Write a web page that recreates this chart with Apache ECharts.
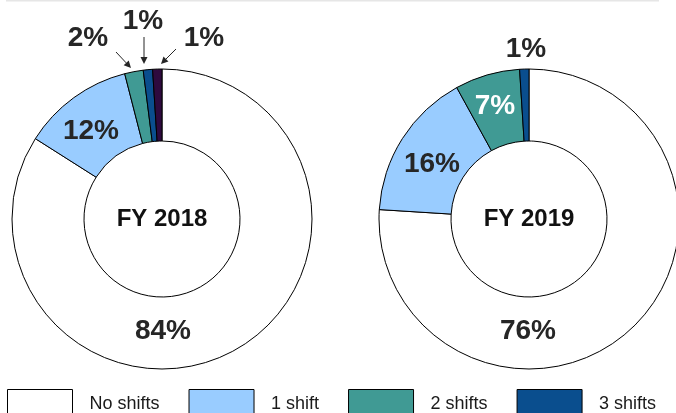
<!DOCTYPE html>
<html>
<head>
<meta charset="utf-8">
<script src="https://cdn.jsdelivr.net/npm/echarts@6/dist/echarts.min.js"></script>
<style>
  html, body { margin: 0; padding: 0; background: #fff; }
  #chart { width: 676px; height: 413px; }
</style>
</head>
<body>
<div id="chart"></div>
<script>
// shift categories (last one is not in the legend)
var categories = ['No shifts', '1 shift', '2 shifts', '3 shifts', '4+ shifts'];
var legendNames = ['No shifts', '1 shift', '2 shifts', '3 shifts'];
var fy2018 = [84, 12, 2, 1, 1];
var fy2019 = [76, 16, 7, 1];
var years = ['FY 2018', 'FY 2019'];

var colors = ['#ffffff', '#99ccff', '#409a94', '#0a4e8e', '#2e0a3e'];
var FONT = '"Liberation Sans", Arial, sans-serif';

// label spots for each slice (px)
var labelPos2018 = [[163, 331], [91, 131], [88, 38], [143, 21], [204, 38]];
var labelPos2019 = [[528, 331], [432, 164], [495, 106], [526, 49]];

function makeData(vals) {
    return vals.map(function (v, i) {
        return {
            name: categories[i],
            value: v,
            itemStyle: { color: colors[i] },
            label: { color: (vals === fy2019 && i === 2) ? '#ffffff' : '#262626' }
        };
    });
}

function pieSeries(vals, center, pos) {
    return {
        type: 'pie',
        center: center,
        radius: [78, 150],
        startAngle: 90,
        clockwise: true,
        avoidLabelOverlap: false,
        silent: true,
        itemStyle: { borderColor: '#000', borderWidth: 1 },
        label: {
            show: true,
            position: 'inside',
            formatter: '{c}%',
            fontFamily: FONT,
            fontWeight: 'bold',
            fontSize: 28
        },
        labelLine: { show: false },
        labelLayout: function (p) {
            var xy = pos[p.dataIndex];
            return { x: xy[0], y: xy[1], align: 'center', verticalAlign: 'middle' };
        },
        emphasis: { disabled: true },
        data: makeData(vals)
    };
}

// little arrows pointing at the thin slices
function arrow(x1, y1, x2, y2) {
    var a = Math.atan2(y2 - y1, x2 - x1), L = 7, W = 3.5;
    var bx = x2 - L * Math.cos(a), by = y2 - L * Math.sin(a);
    return [{
        type: 'line',
        shape: { x1: x1, y1: y1, x2: bx, y2: by },
        style: { stroke: '#262626', lineWidth: 1 }
    }, {
        type: 'polygon',
        shape: { points: [[x2, y2],
            [bx + W * Math.sin(a), by - W * Math.cos(a)],
            [bx - W * Math.sin(a), by + W * Math.cos(a)]] },
        style: { fill: '#262626' }
    }];
}

var graphics = [{
    type: 'line',
    shape: { x1: 6, y1: 0.5, x2: 659, y2: 0.5 },
    style: { stroke: '#e6e6e6', lineWidth: 2 }
}, {
    type: 'text', x: 162, y: 219,
    style: { text: years[0], font: 'bold 24px ' + FONT, fill: '#111', align: 'center', verticalAlign: 'middle' }
}, {
    type: 'text', x: 529, y: 219,
    style: { text: years[1], font: 'bold 24px ' + FONT, fill: '#111', align: 'center', verticalAlign: 'middle' }
}];
graphics = graphics.concat(arrow(116, 52, 131, 68), arrow(144, 37, 144, 64), arrow(176, 49, 161, 64));

var myChart = echarts.init(document.getElementById('chart'));
var option = {
    animation: false,
    backgroundColor: '#fff',
    legend: {
        data: legendNames,
        left: 7,
        top: 389,
        padding: 0,
        itemWidth: 65,
        itemHeight: 30,
        itemGap: 29,
        icon: 'rect',
        selectedMode: false,
        itemStyle: { borderColor: '#000', borderWidth: 1 },
        textStyle: { fontFamily: FONT, fontSize: 18, color: '#1a1a1a', padding: [0, 0, 0, 12] }
    },
    graphic: graphics,
    series: [
        pieSeries(fy2018, [162, 219], labelPos2018),
        pieSeries(fy2019, [529, 219], labelPos2019)
    ]
};
myChart.setOption(option);
</script>
</body>
</html>
